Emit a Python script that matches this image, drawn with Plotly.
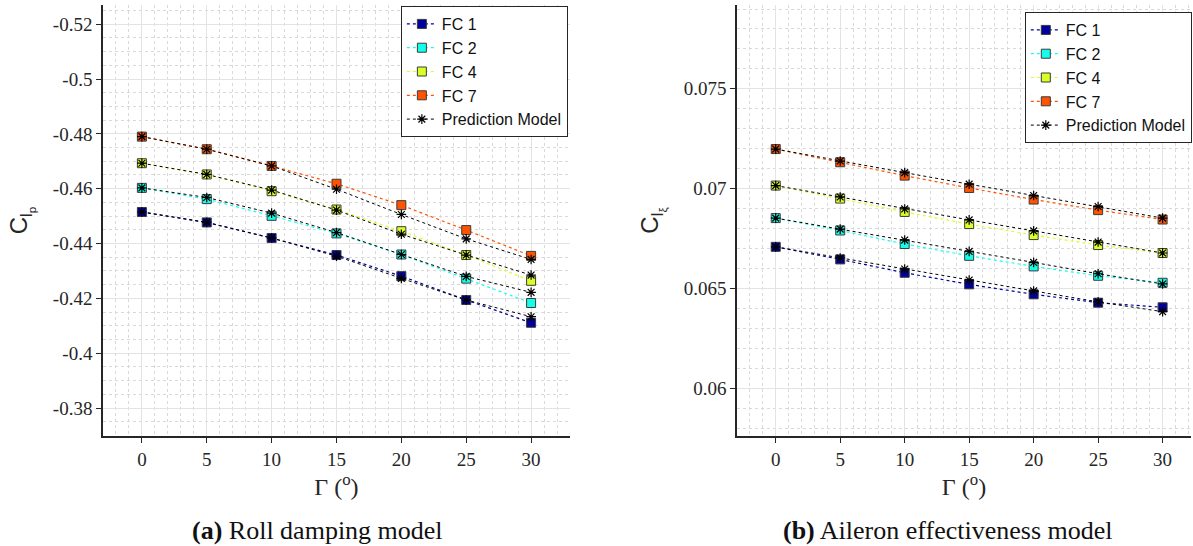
import plotly.graph_objects as go

gamma = [0, 5, 10, 15, 20, 25, 30]
fc_names = ["FC 1", "FC 2", "FC 4", "FC 7"]
fc_colors = ["#00009C", "#14FFEB", "#D8FF27", "#FF5300"]

# Roll damping (left)
clp_fc1 = [-0.4515, -0.4477, -0.4420, -0.4358, -0.4281, -0.4194, -0.4111]
clp_fc2 = [-0.4603, -0.4562, -0.4501, -0.4437, -0.4360, -0.4272, -0.4183]
clp_fc4 = [-0.4693, -0.4652, -0.4591, -0.4524, -0.4445, -0.4358, -0.4264]
clp_fc7 = [-0.4790, -0.4744, -0.4683, -0.4618, -0.4540, -0.4449, -0.4355]
clp_pred1 = [-0.4515, -0.4477, -0.4420, -0.4354, -0.4273, -0.4194, -0.4133]
clp_pred2 = [-0.4603, -0.4568, -0.4511, -0.4440, -0.4360, -0.4280, -0.4222]
clp_pred4 = [-0.4693, -0.4652, -0.4595, -0.4522, -0.4434, -0.4358, -0.4285]
clp_pred7 = [-0.4790, -0.4744, -0.4683, -0.4598, -0.4506, -0.4417, -0.4342]

# Aileron effectiveness (right)
cle_fc1 = [0.06708, 0.06645, 0.06578, 0.06520, 0.06470, 0.06428, 0.06405]
cle_fc2 = [0.06852, 0.06790, 0.06722, 0.06663, 0.06610, 0.06563, 0.06528]
cle_fc4 = [0.07015, 0.06950, 0.06883, 0.06822, 0.06767, 0.06717, 0.06677]
cle_fc7 = [0.07198, 0.07132, 0.07065, 0.07003, 0.06945, 0.06892, 0.06845]
cle_pred1 = [0.06708, 0.06652, 0.06597, 0.06542, 0.06487, 0.06432, 0.06383]
cle_pred2 = [0.06852, 0.06797, 0.06742, 0.06685, 0.06630, 0.06573, 0.06522]
cle_pred4 = [0.07015, 0.06958, 0.06898, 0.06843, 0.06788, 0.06732, 0.06677]
cle_pred7 = [0.07198, 0.07138, 0.07080, 0.07022, 0.06965, 0.06910, 0.06852]

x_ticks = [0, 5, 10, 15, 20, 25, 30]
left_yticks = [-0.52, -0.5, -0.48, -0.46, -0.44, -0.42, -0.4, -0.38]
left_yticktext = ["-0.52", "-0.5", "-0.48", "-0.46", "-0.44", "-0.42", "-0.4", "-0.38"]
right_yticks = [0.06, 0.065, 0.07, 0.075]
right_yticktext = ["0.06", "0.065", "0.07", "0.075"]

fig = go.Figure()

def add_panel(fcs, preds, xa, ya, legend):
    for name, col, vals in zip(fc_names, fc_colors, fcs):
        fig.add_trace(go.Scatter(
            x=gamma, y=vals, name=name, mode="lines+markers",
            xaxis=xa, yaxis=ya, legend=legend,
            line=dict(color=col, width=1.2, dash="dot"),
            marker=dict(symbol="square", size=9, color=col,
                        line=dict(color="#3a3a3a", width=1)),
        ))
    for i, vals in enumerate(preds):
        fig.add_trace(go.Scatter(
            x=gamma, y=vals, name="Prediction Model", mode="lines+markers",
            xaxis=xa, yaxis=ya, legend=legend, legendgroup="pred" + legend,
            showlegend=(i == 0),
            line=dict(color="black", width=1, dash="dot"),
            marker=dict(symbol="asterisk-open", size=8, color="black",
                        line=dict(color="black", width=1.2)),
        ))

add_panel([clp_fc1, clp_fc2, clp_fc4, clp_fc7],
          [clp_pred1, clp_pred2, clp_pred4, clp_pred7], "x", "y", "legend")
add_panel([cle_fc1, cle_fc2, cle_fc4, cle_fc7],
          [cle_pred1, cle_pred2, cle_pred4, cle_pred7], "x2", "y2", "legend2")

serif = "Liberation Serif"
sans = "Liberation Sans, Arial, sans-serif"

common_axis = dict(
    showline=True, linecolor="#262626", linewidth=1.5,
    ticks="outside", ticklen=5, tickcolor="#262626",
    showgrid=True, gridcolor="#e3e3e3", gridwidth=1,
    zeroline=False, tickfont=dict(family=serif, size=19, color="#262626"),
    mirror=False, automargin=False,
)

minor_x = dict(dtick=1, tick0=0, showgrid=True, griddash="dot", gridcolor="#d9d9d9", ticks="")
xtitle = dict(text="Γ (<sup>o</sup>)", font=dict(family=serif, size=24, color="#262626"), standoff=10)

ydom = [0.2015, 0.9908]
fig.update_layout(
    width=1193, height=546,
    margin=dict(l=0, r=0, t=0, b=0, autoexpand=False),
    paper_bgcolor="white", plot_bgcolor="white",
    xaxis=dict(domain=[0.0863, 0.4778], range=[-3, 33], tickvals=x_ticks,
               minor=minor_x, title=xtitle, anchor="y", **common_axis),
    yaxis=dict(domain=ydom, range=[-0.3698, -0.527], tickvals=left_yticks, ticktext=left_yticktext,
               minor=dict(dtick=0.005, tick0=0, showgrid=True, griddash="dot", gridcolor="#d9d9d9", ticks=""),
               title=dict(text="C<sub>l<sub>p</sub></sub>", font=dict(family=sans, size=24, color="#262626"), standoff=18),
               anchor="x", **common_axis),
    xaxis2=dict(domain=[0.6178, 0.9983], range=[-3, 32.2], tickvals=x_ticks,
                minor=minor_x, title=xtitle, anchor="y2", **common_axis),
    yaxis2=dict(domain=ydom, range=[0.0576, 0.0792], tickvals=right_yticks, ticktext=right_yticktext,
                minor=dict(dtick=0.001, tick0=0, showgrid=True, griddash="dot", gridcolor="#d9d9d9", ticks=""),
                title=dict(text="C<sub>l<sub>ξ</sub></sub>", font=dict(family=sans, size=24, color="#262626"), standoff=18),
                anchor="x2", **common_axis),
    legend=dict(x=0.476, y=0.989, xanchor="right", yanchor="top",
                bgcolor="white", bordercolor="#262626", borderwidth=1,
                font=dict(family=sans, size=16, color="#111"), tracegroupgap=0,
                itemwidth=30),
    legend2=dict(x=0.999, y=0.978, xanchor="right", yanchor="top",
                 bgcolor="white", bordercolor="#262626", borderwidth=1,
                 font=dict(family=sans, size=16, color="#111"), tracegroupgap=0,
                 itemwidth=30),
    annotations=[
        dict(text="<b>(a)</b> Roll damping model", x=0.266, y=0.029, xref="paper", yref="paper",
             showarrow=False, xanchor="center", yanchor="middle",
             font=dict(family=serif, size=26, color="#111")),
        dict(text="<b>(b)</b> Aileron effectiveness model", x=0.795, y=0.029, xref="paper", yref="paper",
             showarrow=False, xanchor="center", yanchor="middle",
             font=dict(family=serif, size=26, color="#111")),
    ],
)

fig.write_html("out.html", config={"displayModeBar": False},
               post_script="document.body.style.margin='0';")
